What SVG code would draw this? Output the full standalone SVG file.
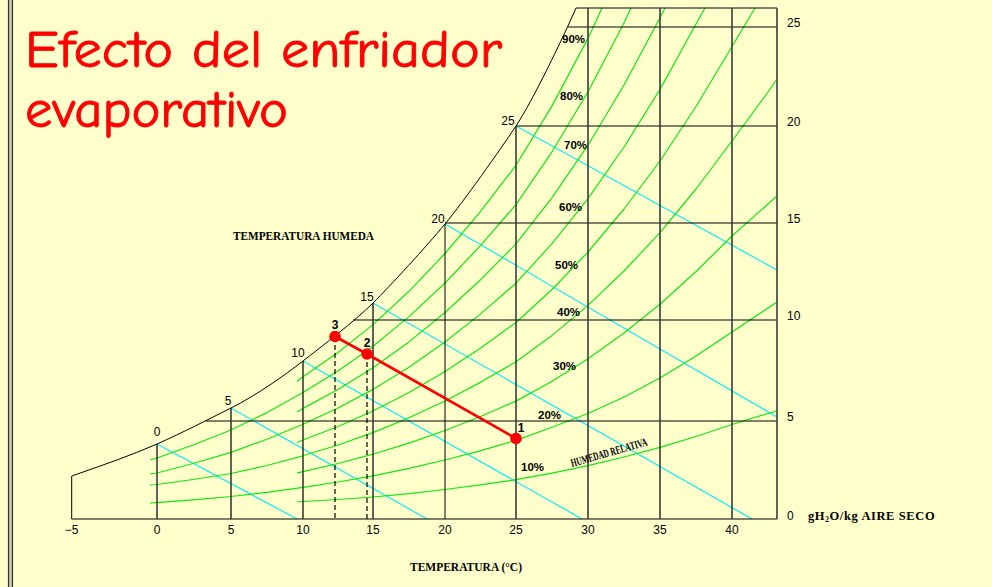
<svg xmlns="http://www.w3.org/2000/svg" width="992" height="587" viewBox="0 0 992 587">
<style>
.num{font-family:"Liberation Sans",Arial,sans-serif;font-size:12px;fill:#000}
.pct{font-family:"Liberation Sans",Arial,sans-serif;font-size:11.5px;font-weight:bold;fill:#000}
.lbl{font-family:"Liberation Serif","Times New Roman",serif;font-size:11.5px;font-weight:bold;fill:#000}
.title{font-family:"Comic Sans MS","Comic Neue","DejaVu Sans",sans-serif;font-size:52px;fill:#ff0000;stroke:#ff0000;stroke-width:0.9}
.grid{stroke:#000;stroke-width:1;fill:none}
.vgrid{stroke:#3a3a3a;stroke-width:1.6;fill:none}
.rh{stroke:#10e810;stroke-width:1.2;fill:none;stroke-linejoin:round}
.wb{stroke:#10ecf8;stroke-width:1.2;fill:none}
.sat{stroke:#000;stroke-width:1;fill:none}
.dash{stroke:#000;stroke-width:1.2;stroke-dasharray:5,3;fill:none}
</style>
<rect x="0" y="0" width="992" height="587" fill="#ffffcc"/>
<g id="border">
<rect x="8" y="0" width="5" height="587" fill="#c4c4aa"/>
<line x1="8.5" y1="0" x2="8.5" y2="587" stroke="#333" stroke-width="1.2"/>
<line x1="12.5" y1="0" x2="12.5" y2="587" stroke="#333" stroke-width="1.2"/>
</g>
<g id="title">
<text class="title" x="25" y="67" textLength="477" lengthAdjust="spacingAndGlyphs">Efecto del enfriador</text>
<text class="title" x="25" y="127" textLength="263" lengthAdjust="spacingAndGlyphs">evaporativo</text>
</g>
<g id="wetbulb">
<line class="wb" x1="157" y1="444" x2="297" y2="519"/>
<line class="wb" x1="231" y1="408" x2="427" y2="519"/>
<line class="wb" x1="303" y1="361" x2="582" y2="519"/>
<line class="wb" x1="373" y1="303" x2="752" y2="519"/>
<line class="wb" x1="445" y1="224" x2="777" y2="417"/>
<line class="wb" x1="516" y1="126" x2="777" y2="270"/>
</g>
<g id="rh-curves">
<polyline class="rh" points="297,381.3 303,376.8 338,352.5 373,324.6 409,291.3 445,253.5 480,212.1 516,165.3 552,105.9 588,38.4 602,8"/>
<polyline class="rh" points="150,460 157,458 193,445 231,430 267,412.6 303,392.6 338,371 373,346.2 409,316.6 445,283 480,246.2 516,204.6 552,151.8 588,91.8 624,23 631,8"/>
<polyline class="rh" points="297,411.9 303,408.4 338,389.5 373,367.8 409,341.9 445,312.5 480,280.3 516,243.9 552,197.7 588,145.2 624,85 660,17.8 665,8"/>
<polyline class="rh" points="150,474 157,473 193,463.5 231,452.4 267,439.2 303,424.2 338,408 373,389.4 409,367.2 445,342 480,314.4 516,283.2 552,243.6 588,198.6 624,147 660,89.4 696,24 705,8"/>
<polyline class="rh" points="297,442.5 303,440 338,426.5 373,411 409,392.5 445,371.5 480,348.5 516,322.5 552,289.5 588,252 624,209 660,161 696,106.5 732,46.5 755,8"/>
<polyline class="rh" points="150,485 157,484.5 193,479.5 231,473.5 267,465.5 303,455.8 338,445 373,432.6 409,417.8 445,401 480,382.6 516,361.8 552,335.4 588,305.4 624,271 660,232.6 696,189 732,141 768,92 777,79"/>
<polyline class="rh" points="297,473.1 303,471.6 338,463.5 373,454.2 409,443.1 445,430.5 480,416.7 516,401.1 552,381.3 588,358.8 624,333 660,304.2 696,271.5 732,236 768,204 777,196"/>
<polyline class="rh" points="150,503 157,502.6 193,499.8 231,496.5 267,492.4 303,487.4 338,482 373,475.8 409,468.4 445,460 480,450.8 516,440.4 552,427.2 588,413.5 624,397 660,378 696,356 732,332 768,308 777,302"/>
<polyline class="rh" points="297,502 303,501.5 338,499.5 373,497 409,493.7 445,489.5 480,484.9 516,479.7 552,473.1 588,465.6 624,457 660,447.4 696,436.5 732,424.5 768,413.5 777,411"/>
</g>
<g id="grid">
<line class="grid" x1="71.7" y1="519" x2="777" y2="519"/>
<line class="grid" x1="576" y1="8" x2="777" y2="8"/>
<line class="grid" x1="568" y1="27" x2="777" y2="27"/>
<line class="grid" x1="516" y1="126" x2="777" y2="126"/>
<line class="grid" x1="445" y1="223" x2="777" y2="223"/>
<line class="grid" x1="353" y1="320" x2="777" y2="320"/>
<line class="grid" x1="206" y1="421" x2="777" y2="421"/>
<line class="grid" x1="71.7" y1="476" x2="71.7" y2="519"/>
<line class="vgrid" x1="157" y1="444" x2="157" y2="519"/>
<line class="vgrid" x1="231" y1="408" x2="231" y2="519"/>
<line class="vgrid" x1="303" y1="361" x2="303" y2="519"/>
<line class="vgrid" x1="373" y1="303" x2="373" y2="519"/>
<line class="grid" x1="445" y1="224" x2="445" y2="519"/>
<line class="vgrid" x1="516" y1="126" x2="516" y2="519"/>
<line class="vgrid" x1="588" y1="8" x2="588" y2="519"/>
<line class="vgrid" x1="660" y1="8" x2="660" y2="519"/>
<line class="vgrid" x1="732" y1="8" x2="732" y2="519"/>
<line class="vgrid" x1="777" y1="8" x2="777" y2="519"/>
<path class="sat" d="M71.7,476 C100,466 130,456 157,444 S205,421 231,408 S285,375 303,361 S355,321 373,303 S426,247 445,224 S500,150 516,126 S563,38 576,8"/>
</g>
<g id="process">
<line class="dash" x1="335" y1="337" x2="335" y2="519"/>
<line class="dash" x1="367" y1="354" x2="367" y2="519"/>
<polyline points="516,438.5 367,354 335,336.5" fill="none" stroke="#ff0000" stroke-width="2.6"/>
<circle cx="516" cy="438.5" r="5.8" fill="#ff0000"/>
<circle cx="367" cy="354" r="5.8" fill="#ff0000"/>
<circle cx="335" cy="336.5" r="5.8" fill="#ff0000"/>
<text class="num" x="521" y="432" text-anchor="middle" style="font-weight:bold">1</text>
<text class="num" x="367" y="347" text-anchor="middle" style="font-weight:bold">2</text>
<text class="num" x="335" y="329" text-anchor="middle" style="font-weight:bold">3</text>
</g>
<g id="sat-labels">
<text class="num" x="157" y="436" text-anchor="middle">0</text>
<text class="num" x="228" y="405" text-anchor="middle">5</text>
<text class="num" x="298" y="357" text-anchor="middle">10</text>
<text class="num" x="367" y="301" text-anchor="middle">15</text>
<text class="num" x="438" y="223" text-anchor="middle">20</text>
<text class="num" x="508" y="125" text-anchor="middle">25</text>
</g>
<g id="x-axis-labels">
<text class="num" x="71.7" y="534" text-anchor="middle">−5</text>
<text class="num" x="157" y="534" text-anchor="middle">0</text>
<text class="num" x="231" y="534" text-anchor="middle">5</text>
<text class="num" x="303" y="534" text-anchor="middle">10</text>
<text class="num" x="373" y="534" text-anchor="middle">15</text>
<text class="num" x="445" y="534" text-anchor="middle">20</text>
<text class="num" x="516" y="534" text-anchor="middle">25</text>
<text class="num" x="588" y="534" text-anchor="middle">30</text>
<text class="num" x="660" y="534" text-anchor="middle">35</text>
<text class="num" x="732" y="534" text-anchor="middle">40</text>
<text class="lbl" x="410" y="571" textLength="112" lengthAdjust="spacingAndGlyphs">TEMPERATURA (°C)</text>
</g>
<g id="y-axis-labels">
<text class="num" x="787" y="27">25</text>
<text class="num" x="787" y="126">20</text>
<text class="num" x="787" y="223">15</text>
<text class="num" x="787" y="320">10</text>
<text class="num" x="787" y="421">5</text>
<text class="num" x="787" y="520">0</text>
<text class="lbl" x="808" y="520" style="font-size:12.5px;letter-spacing:0.6px">gH<tspan font-size="7.5" dy="2">2</tspan><tspan dy="-2">O/kg  AIRE  SECO</tspan></text>
</g>
<g id="rh-labels">
<text class="pct" x="562" y="43">90%</text>
<text class="pct" x="560" y="100">80%</text>
<text class="pct" x="564" y="149">70%</text>
<text class="pct" x="559" y="211">60%</text>
<text class="pct" x="555" y="269">50%</text>
<text class="pct" x="557" y="316">40%</text>
<text class="pct" x="553" y="370">30%</text>
<text class="pct" x="538" y="419">20%</text>
<text class="pct" x="521" y="471">10%</text>
<text class="lbl" x="572" y="467" font-size="7.5" textLength="79" lengthAdjust="spacingAndGlyphs" transform="rotate(-16 572 467)">HUMEDAD RELATIVA</text>
<text class="lbl" x="233" y="240" textLength="141" lengthAdjust="spacingAndGlyphs">TEMPERATURA  HUMEDA</text>
</g>
</svg>
